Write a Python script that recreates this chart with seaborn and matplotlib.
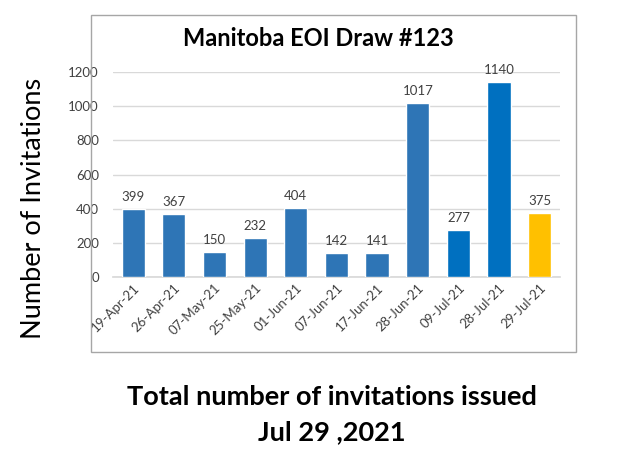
import matplotlib
matplotlib.use("Agg")
import matplotlib.pyplot as plt
import seaborn as sns
import pandas as pd
from matplotlib.patches import Rectangle

dates = ["19-Apr-21", "26-Apr-21", "07-May-21", "25-May-21", "01-Jun-21", "07-Jun-21",
         "17-Jun-21", "28-Jun-21", "09-Jul-21", "28-Jul-21", "29-Jul-21"]
invitations = [399, 367, 150, 232, 404, 142, 141, 1017, 277, 1140, 375]
bar_colors = ["#2E75B6"] * 8 + ["#0070C0", "#0070C0", "#FFC000"]

sns.set_theme(style="white")
plt.rcParams['font.family'] = ['Lato', 'DejaVu Sans']

df = pd.DataFrame({"date": dates, "n": invitations})

fig = plt.figure(figsize=(6.3, 4.5), dpi=100)
fig.patch.set_facecolor("white")
ax = fig.add_axes([0.179, 0.384, 0.71, 0.456])

sns.barplot(data=df, x="date", y="n", hue="date", palette=bar_colors, legend=False,
            width=0.57, saturation=1, ax=ax, zorder=3)

ax.set_ylim(0, 1200)
ax.set_yticks(range(0, 1201, 200))
ax.yaxis.grid(True, color="#D9D9D9", linewidth=1, zorder=0)
ax.set_axisbelow(True)
for s in ["top", "right", "left"]:
    ax.spines[s].set_visible(False)
ax.spines["bottom"].set_color("#D9D9D9")
ax.set_xlabel("")
ax.set_ylabel("")
ax.tick_params(axis="y", length=0, labelsize=9.5, colors="#404040", pad=10)
ax.tick_params(axis="x", length=0, labelsize=9.5, colors="#404040", pad=3)
plt.setp(ax.get_xticklabels(), rotation=45, ha="right", rotation_mode="anchor")

for i, v in enumerate(invitations):
    ax.text(i, v + 35, str(v), ha="center", va="bottom", fontsize=9.5, color="#404040", clip_on=False)

# chart border
fig.patches.append(Rectangle((0.144, 0.218), 0.771, 0.749, transform=fig.transFigure,
                             fill=False, edgecolor="#A6A6A6", linewidth=1))

fig.text(0.505, 0.915, "Manitoba EOI Draw #123", ha="center", va="center",
         fontsize=17, fontweight="bold", color="black")
fig.text(0.053, 0.537, "Number of Invitations", rotation=90, ha="center", va="center",
         fontsize=19.5, color="black")
fig.text(0.527, 0.118, "Total number of invitations issued", ha="center", va="center",
         fontsize=19.5, fontweight="bold", color="black")
fig.text(0.527, 0.04, "Jul 29 ,2021", ha="center", va="center",
         fontsize=19.5, fontweight="bold", color="black")

fig.savefig("out.png", dpi=100)
